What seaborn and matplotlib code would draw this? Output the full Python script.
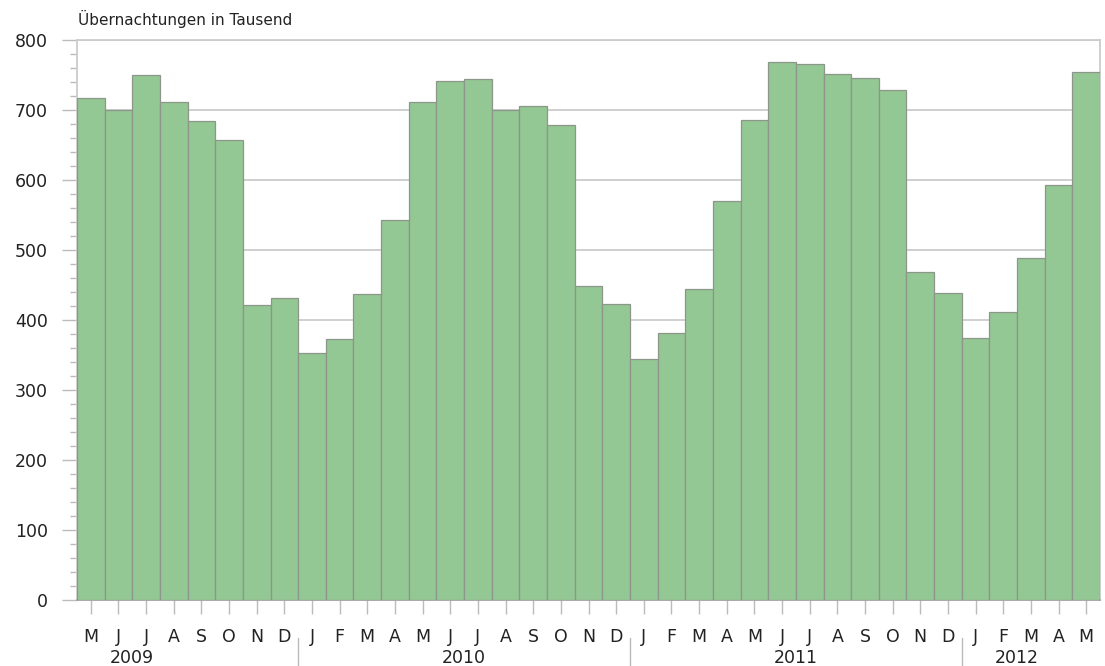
import pandas as pd
import seaborn as sns
import matplotlib.pyplot as plt
import matplotlib.ticker as mticker

# Monthly overnight stays (thousands), May 2009 - May 2012
months = ['M', 'J', 'J', 'A', 'S', 'O', 'N', 'D',
          'J', 'F', 'M', 'A', 'M', 'J', 'J', 'A', 'S', 'O', 'N', 'D',
          'J', 'F', 'M', 'A', 'M', 'J', 'J', 'A', 'S', 'O', 'N', 'D',
          'J', 'F', 'M', 'A', 'M']
values = [717, 700, 750, 711, 684, 657, 422, 431,
          353, 373, 437, 543, 711, 741, 744, 700, 706, 679, 448, 423,
          344, 382, 444, 570, 686, 769, 766, 752, 746, 728, 469, 439,
          375, 412, 488, 593, 755]
years = ['2009', '2010', '2011', '2012']
year_pos = [1.5, 13.5, 25.5, 33.5]
year_breaks = [7.5, 19.5, 31.5]

df = pd.DataFrame({'idx': range(len(values)), 'month': months, 'value': values})

sns.set_theme(style='white')
plt.rcParams['font.family'] = ['DejaVu Sans']

fig = plt.figure(figsize=(11.05, 6.66), dpi=100)
ax = fig.add_axes([77 / 1105, 1 - 600 / 666, 1023 / 1105, 560 / 666])

sns.barplot(data=df, x='idx', y='value', color='#93c793', saturation=1,
            width=1.0, edgecolor='#8c968b', linewidth=0.9, ax=ax, zorder=3)

ax.set_xlim(-0.5, len(values) - 0.5)
ax.set_ylim(0, 800)
ax.set_xlabel('')
ax.set_ylabel('')

# y axis
ax.yaxis.set_major_locator(mticker.MultipleLocator(100))
ax.yaxis.set_minor_locator(mticker.MultipleLocator(20))
ax.grid(axis='y', color='#cccccc', linewidth=1.3, zorder=0)
ax.set_axisbelow(True)
ax.tick_params(axis='y', which='major', length=11, width=1, color='#bbbbbb',
               pad=10, labelsize=12.5, labelcolor='#222222', left=True)
ax.tick_params(axis='y', which='minor', length=5, width=1, color='#bbbbbb', left=True)

# x axis
ax.set_xticks(range(len(months)))
ax.set_xticklabels(months)
ax.tick_params(axis='x', length=10, width=1, color='#bbbbbb', pad=10,
               labelsize=12.5, labelcolor='#222222', bottom=True)

for side in ['top', 'right', 'left']:
    ax.spines[side].set_color('#cccccc')
    ax.spines[side].set_linewidth(1.3)
ax.spines['bottom'].set_color('#999999')
ax.spines['bottom'].set_linewidth(1.2)

trans = ax.get_xaxis_transform()
for yr, pos in zip(years, year_pos):
    ax.text(pos, -0.104, yr, transform=trans, ha='center', va='center',
            fontsize=12.5, color='#222222')
for b in year_breaks:
    ax.plot([b, b], [-0.068, -0.125], transform=trans, color='#bbbbbb',
            linewidth=1, clip_on=False)

fig.text(78 / 1105, 1 - 19 / 666, 'Übernachtungen in Tausend', ha='left', va='center',
         fontsize=11, color='#222222')

fig.savefig('out.png', dpi=100)
